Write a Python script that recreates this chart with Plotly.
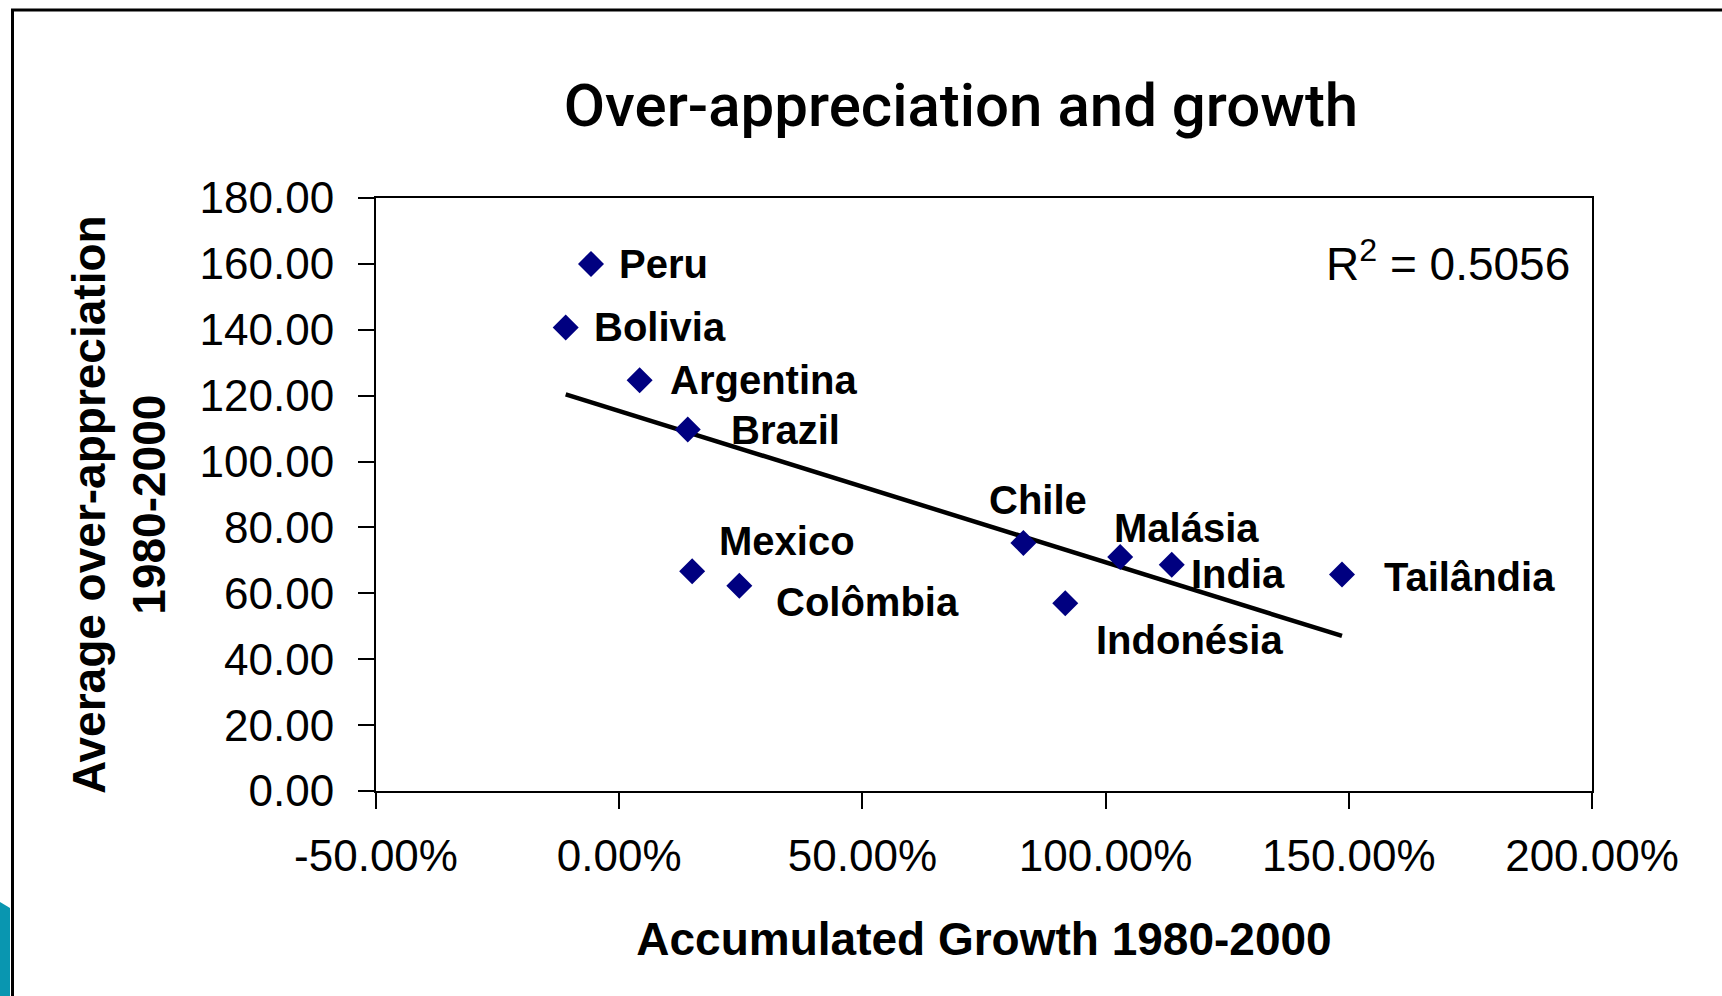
import numpy as np
import plotly.graph_objects as go

# ---------------- data ----------------
countries = ["Peru", "Bolivia", "Argentina", "Brazil", "Mexico", "Colômbia",
             "Chile", "Malásia", "India", "Indonésia", "Tailândia"]
growth = [-0.058, -0.110, 0.042, 0.141, 0.150, 0.247,
          0.831, 1.030, 1.136, 0.917, 1.486]          # accumulated growth 1980-2000
overapp = [160.0, 140.7, 124.7, 109.7, 66.7, 62.3,
           75.3, 71.0, 68.7, 57.0, 65.7]              # average over-appreciation
r2_label = "R<sup>2</sup> = 0.5056"
y_ticks = [0, 20, 40, 60, 80, 100, 120, 140, 160, 180]
x_ticks = [-0.5, 0.0, 0.5, 1.0, 1.5, 2.0]
x_ticktext = [f"{v * 100:.2f}%" for v in x_ticks]

# ---------------- layout helpers ----------------
W, H = 1722, 996
L, R, T, B = 376, 1592, 198, 791
def px(x): return (x - L) / (R - L)
def py(y): return (B - y) / (B - T)

FONT = "Liberation Sans, Arial, sans-serif"

# label placement (xanchor, xshift px, yshift px)
label_pos = {
    "Peru": ("left", 26, 0),
    "Bolivia": ("left", 26, 0),
    "Argentina": ("left", 28, 0),
    "Brazil": ("left", 41, 0),
    "Mexico": ("left", 25, 30),
    "Colômbia": ("left", 35, -16),
    "Chile": ("center", 15, 43),
    "Malásia": ("left", -8, 29),
    "India": ("left", 17, -9),
    "Indonésia": ("left", 29, -37),
    "Tailândia": ("left", 40, -2),
}

# trendline (least squares)
gx = np.array(growth)
oy = np.array(overapp)
slope, intercept = np.polyfit(gx, oy, 1)
tx = np.array([gx.min(), gx.max()])
ty = slope * tx + intercept

fig = go.Figure()
fig.add_trace(go.Scatter(x=tx, y=ty, mode="lines",
                         line=dict(color="black", width=4.5),
                         hoverinfo="skip", showlegend=False))
fig.add_trace(go.Scatter(x=growth, y=overapp, mode="markers",
                         marker=dict(symbol="diamond", size=20, color="#000080",
                                     line=dict(width=0)),
                         text=countries, showlegend=False))

annotations = []
for c, x, y in zip(countries, growth, overapp):
    anc, dx, dy = label_pos[c]
    annotations.append(dict(x=x, y=y, xref="x", yref="y", text=c, showarrow=False,
                            xanchor=anc, yanchor="middle", xshift=dx, yshift=dy,
                            font=dict(family=FONT, size=40, color="black", weight="bold")))
annotations.append(dict(x=px(1572), y=py(261), xref="paper", yref="paper", text=r2_label,
                        showarrow=False, xanchor="right", yanchor="middle",
                        font=dict(family=FONT, size=46, color="black")))
# y-axis title (two centred lines, rotated)
annotations.append(dict(x=px(119), y=py(505), xref="paper", yref="paper",
                        text="Average over-appreciation<br>1980-2000", textangle=-90,
                        showarrow=False, xanchor="center", yanchor="middle",
                        font=dict(family=FONT, size=46, color="black", weight="bold")))

shapes = [
    # outer chart frame (extends beyond right/bottom of the view)
    dict(type="rect", xref="paper", yref="paper", x0=px(12.5), y0=py(1010),
         x1=px(1740), y1=py(10), line=dict(color="black", width=3), fillcolor="rgba(0,0,0,0)",
         layer="below"),
    # teal fragment at bottom-left
    dict(type="path", xref="paper", yref="paper",
         path=f"M {px(0)} {py(902)} L {px(10)} {py(908)} L {px(10)} {py(1000)} L {px(0)} {py(1000)} Z",
         fillcolor="#0996b0", line=dict(width=0), layer="below"),
]

fig.update_layout(
    width=W, height=H,
    margin=dict(l=L, r=W - R, t=T, b=H - B, autoexpand=False),
    paper_bgcolor="white", plot_bgcolor="white",
    title=dict(text="Over-appreciation and growth", x=961 / W, xanchor="center",
               y=1 - 105 / H, yanchor="middle", xref="container", yref="container",
               font=dict(family="Roboto, " + FONT, size=60, color="black", weight=500)),
    annotations=annotations, shapes=shapes,
    showlegend=False,
)
fig.update_xaxes(range=[-0.5, 2.0], tickvals=x_ticks, ticktext=x_ticktext,
                 showgrid=False, zeroline=False,
                 showline=True, linecolor="black", linewidth=2, mirror=True,
                 ticks="outside", ticklen=16, tickwidth=2, tickcolor="black",
                 ticklabelstandoff=9,
                 tickfont=dict(family=FONT, size=44, color="black"),
                 title=dict(text="Accumulated Growth 1980-2000", standoff=44,
                            font=dict(family=FONT, size=46, color="black", weight="bold")))
fig.update_yaxes(range=[0, 180], tickvals=y_ticks, tickformat=".2f",
                 showgrid=False, zeroline=False,
                 showline=True, linecolor="black", linewidth=2, mirror=True,
                 ticks="outside", ticklen=16, tickwidth=2, tickcolor="black",
                 ticklabelstandoff=15,
                 tickfont=dict(family=FONT, size=44, color="black"))

fig.write_html("out.html", config={"displayModeBar": False},
               post_script="document.body.style.margin='0';")
